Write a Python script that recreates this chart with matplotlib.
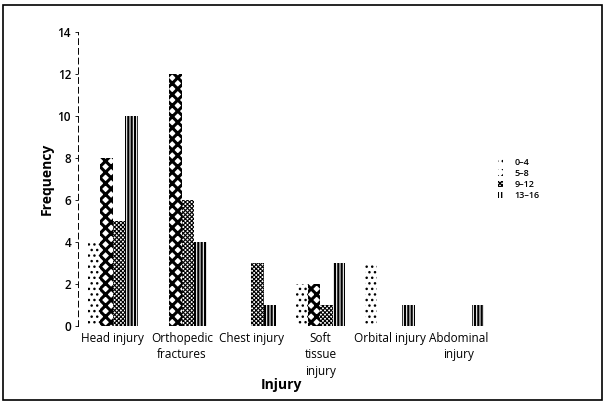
import numpy as np
import matplotlib
matplotlib.use('Agg')
import matplotlib.pyplot as plt
from matplotlib.patches import Rectangle

plt.rcParams['font.family'] = ['Open Sans', 'DejaVu Sans']

# data
categories = ['Head injury', 'Orthopedic\nfractures', 'Chest injury',
              'Soft\ntissue\ninjury', 'Orbital injury', 'Abdominal\ninjury']
age_groups = ['0\u20134', '5\u20138', '9\u201312', '13\u201316']
freq_0_4 = [4, 0, 0, 2, 3, 0]
freq_5_8 = [8, 12, 0, 2, 0, 0]
freq_9_12 = [5, 6, 3, 1, 0, 0]
freq_13_16 = [10, 4, 1, 3, 1, 1]
y_ticks = [0, 2, 4, 6, 8, 10, 12, 14]

series = [freq_0_4, freq_5_8, freq_9_12, freq_13_16]
hatches = ['...', 'xxx', 'xxxxxxxx', '|||||']
hatch_lw = [1.0, 2.2, 0.8, 1.6]

fig = plt.figure(figsize=(6.05, 4.03), dpi=100)
ax = fig.add_axes([0.129, 0.191, 0.687, 0.730])

x = np.arange(len(categories))
w = 0.18
for i, (vals, h) in enumerate(zip(series, hatches)):
    with plt.rc_context({'hatch.linewidth': hatch_lw[i]}):
        bars = ax.bar(x + (i - 1.5) * w, vals, width=w, color='white',
                      edgecolor='black', linewidth=0, hatch=h,
                      label=age_groups[i])
        for b in bars:
            if hasattr(b, 'set_hatch_linewidth'):
                b.set_hatch_linewidth(hatch_lw[i])

ax.set_xlim(-0.5, 5.5)
ax.set_ylim(0, 14)
ax.set_yticks(y_ticks)
ax.set_yticklabels([str(t) for t in y_ticks], fontsize=8.5, fontweight='semibold')
ax.set_xticks(x)
ax.set_xticklabels(categories, fontsize=8.5, linespacing=1.35)
ax.tick_params(axis='x', length=0, pad=4)
ax.tick_params(axis='y', length=2, width=0.6, pad=3)

for s in ['top', 'right', 'bottom']:
    ax.spines[s].set_visible(False)
ax.spines['left'].set_linestyle((0, (6, 4)))
ax.spines['left'].set_linewidth(0.7)
ax.axhline(0, color='black', lw=0.7, ls=(0, (2, 6)))

ax.set_xlabel('Injury', fontsize=10, fontweight='bold')
ax.xaxis.set_label_coords(0.49, -0.175)
ax.set_ylabel('Frequency', fontsize=10, fontweight='bold', labelpad=3)

ax.legend(loc='center left', bbox_to_anchor=(0.99, 0.5), frameon=False,
          prop={'size': 6.5, 'weight': 'semibold'}, handlelength=0.6,
          handleheight=0.7, handletextpad=1.3, labelspacing=0.25)

# frame around the whole figure
fig.patches.append(Rectangle((0.005, 0.007), 0.99, 0.98, transform=fig.transFigure,
                             fill=False, edgecolor='black', lw=1.2))

fig.savefig('out.png', dpi=100)
